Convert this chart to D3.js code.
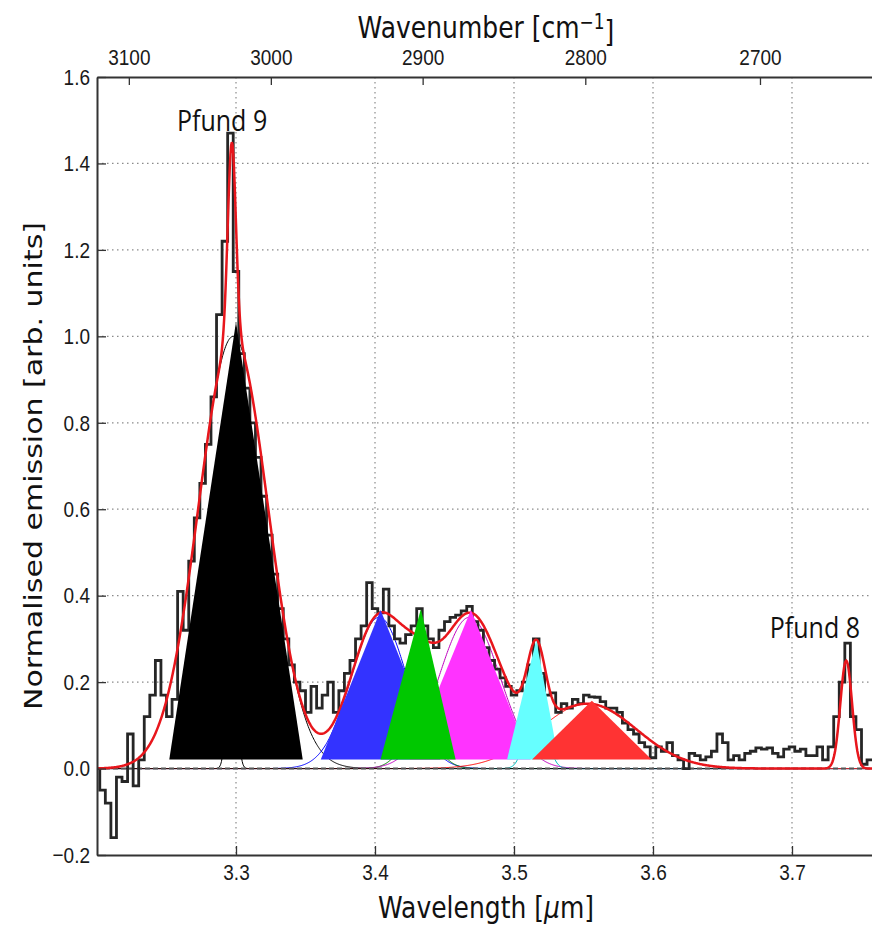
<!DOCTYPE html>
<html>
<head>
<meta charset="utf-8">
<script src="https://cdn.jsdelivr.net/npm/d3@7"></script>
<style>
  body { margin: 0; background: #fff; }
  svg { display: block; font-family: "DejaVu Sans", sans-serif; }
</style>
</head>
<body>
<div id="chart"></div>
<script>
// observed spectrum, one value per bin (steps-mid)
var specStart = 3.200, specStep = 0.004;
var specFlux = [
  0.00, -0.05, -0.08, -0.16, -0.02, -0.03, 0.08, -0.04, 0.02, 0.12,
  0.17, 0.25, 0.17, 0.12, 0.16, 0.41, 0.32, 0.48, 0.58, 0.66,
  0.75, 0.86, 1.05, 1.22, 1.47, 1.15, 0.96, 0.88, 0.80, 0.72,
  0.63, 0.54, 0.45, 0.37, 0.30, 0.24, 0.20, 0.18, 0.13, 0.19,
  0.14, 0.17, 0.20, 0.13, 0.18, 0.22, 0.25, 0.30, 0.33, 0.43,
  0.37, 0.36, 0.415, 0.33, 0.30, 0.29, 0.31, 0.33, 0.37, 0.33,
  0.30, 0.28, 0.32, 0.34, 0.35, 0.355, 0.365, 0.375, 0.34, 0.32,
  0.28, 0.25, 0.23, 0.21, 0.19, 0.17, 0.18, 0.20, 0.24, 0.30,
  0.22, 0.17, 0.175, 0.13, 0.15, 0.14, 0.16, 0.15, 0.17, 0.166,
  0.165, 0.155, 0.14, 0.14, 0.13, 0.105, 0.09, 0.08, 0.06, 0.05,
  0.025, 0.05, 0.04, 0.06, 0.03, 0.02, 0.00, 0.035, 0.03, 0.02,
  0.027, 0.04, 0.08, 0.06, 0.02, 0.03, 0.02, 0.035, 0.04, 0.048,
  0.045, 0.048, 0.035, 0.027, 0.045, 0.05, 0.04, 0.045, 0.03, 0.03,
  0.05, 0.02, 0.05, 0.12, 0.20, 0.29, 0.12, 0.09, 0.01, 0.02,
  0.02
];

// gaussian components of the fit
var compCenter = [3.298, 3.297, 3.403, 3.432, 3.468, 3.516, 3.553, 3.739];
var compAmp    = [1.00, 0.45, 0.35, 0.09, 0.35, 0.18, 0.15, 0.25];
var compSigma  = [0.025, 0.0029, 0.020, 0.012, 0.022, 0.0065, 0.035, 0.0042];
var compColor  = ["#000000", "#000000", "#0000ff", "#008000", "#bf00bf", "#00bfbf", "#ff0000", "#000000"];

// filled triangles, in drawing order
var triApexX     = [3.300, 3.404, 3.469, 3.433, 3.516, 3.556];
var triApexY     = [1.033, 0.367, 0.367, 0.369, 0.297, 0.157];
var triBaseLeft  = [3.252, 3.361, 3.425, 3.404, 3.495, 3.513];
var triBaseRight = [3.348, 3.447, 3.512, 3.458, 3.532, 3.599];
var triBaseY = 0.021;
var triColor = ["#000000", "#3333ff", "#ff33ff", "#00c800", "#66ffff", "#ff3333"];

var xTicks = [3.3, 3.4, 3.5, 3.6, 3.7];
var yTicks = [-0.2, 0.0, 0.2, 0.4, 0.6, 0.8, 1.0, 1.2, 1.4, 1.6];
var wavenumberTicks = [3100, 3000, 2900, 2800, 2700];

var labelText = ["Pfund 9", "Pfund 8"];
var labelX = [3.290, 3.7165];
var labelY = [1.475, 0.302];

var margin = {top: 77, left: 97},
    width = 778.4,
    height = 778,
    stretch = 1.2; // the figure is taller than wide, text included

var x = d3.scaleLinear().domain([3.2, 3.76]).range([0, width]);
var y = d3.scaleLinear().domain([-0.2, 1.6]).range([height, 0]);
// top axis spans its own wavelength window
var xTop = d3.scaleLinear().domain([3.2017, 3.7911]).range([0, width]);

var svg = d3.select("#chart").append("svg")
    .attr("width", 872)
    .attr("height", 925);

var g = svg.append("g")
    .attr("transform", `translate(${margin.left},${margin.top})`);

g.append("clipPath").attr("id", "plotClip")
  .append("rect").attr("width", width).attr("height", height);

// grid
g.append("g").selectAll("line")
    .data(yTicks.filter(function (d) { return d > -0.2 && d < 1.6 && d !== 0; }))
  .enter().append("line")
    .attr("x1", 0).attr("x2", width)
    .attr("y1", function (d) { return y(d); })
    .attr("y2", function (d) { return y(d); })
    .attr("stroke", "#8a8a8a").attr("stroke-width", 1.2)
    .attr("stroke-dasharray", "1.5,3.5");

g.append("g").selectAll("line")
    .data(xTicks)
  .enter().append("line")
    .attr("x1", function (d) { return x(d); })
    .attr("x2", function (d) { return x(d); })
    .attr("y1", 0).attr("y2", height)
    .attr("stroke", "#8a8a8a").attr("stroke-width", 1.2)
    .attr("stroke-dasharray", "1.5,3.5");

var plot = g.append("g").attr("clip-path", "url(#plotClip)");

function gauss(l, k) {
  var d = l - compCenter[k];
  return compAmp[k] * Math.exp(-d * d / (2 * compSigma[k] * compSigma[k]));
}

var grid = d3.range(3.2, 3.7605, 0.0005);
var line = d3.line()
    .x(function (d) { return x(d[0]); })
    .y(function (d) { return y(d[1]); });

// thin component curves
compCenter.forEach(function (c, k) {
  plot.append("path")
      .datum(grid.map(function (l) { return [l, gauss(l, k)]; }))
      .attr("d", line)
      .attr("fill", "none")
      .attr("stroke", compColor[k])
      .attr("stroke-width", 1);
});

// zero line
plot.append("line")
    .attr("x1", 0).attr("x2", width)
    .attr("y1", y(0)).attr("y2", y(0))
    .attr("stroke", "#555").attr("stroke-width", 2)
    .attr("stroke-dasharray", "5,3");

// spectrum
plot.append("path")
    .datum(specFlux.map(function (v, i) { return [specStart + i * specStep, v]; }))
    .attr("d", line.curve(d3.curveStep))
    .attr("fill", "none")
    .attr("stroke", "#262626")
    .attr("stroke-width", 2.8);
line.curve(d3.curveLinear);

// total fit
plot.append("path")
    .datum(grid.map(function (l) {
      return [l, d3.sum(compCenter, function (c, k) { return gauss(l, k); })];
    }))
    .attr("d", line)
    .attr("fill", "none")
    .attr("stroke", "#e8161c")
    .attr("stroke-width", 2.5);

// triangles on top
plot.selectAll(".tri")
    .data(triColor)
  .enter().append("polygon")
    .attr("class", "tri")
    .attr("points", function (d, i) {
      return [[triBaseLeft[i], triBaseY], [triApexX[i], triApexY[i]], [triBaseRight[i], triBaseY]]
        .map(function (p) { return x(p[0]) + "," + y(p[1]); }).join(" ");
    })
    .attr("fill", function (d) { return d; });

// axes
var fmt = d3.format(".1f");

function styleAxis(sel) {
  sel.select(".domain").attr("stroke", "#333").attr("stroke-width", 2);
  sel.selectAll(".tick line").attr("stroke", "#333").attr("stroke-width", 1.3);
  sel.selectAll(".tick text")
      .attr("fill", "#1a1a1a")
      .style("font-size", "19px")
      .attr("transform", `scale(1,${stretch})`);
}

g.append("g")
    .attr("transform", `translate(0,${height})`)
    .call(d3.axisBottom(x).tickValues(xTicks).tickFormat(fmt)
      .tickSize(-9).tickSizeOuter(0).tickPadding(7.3))
    .call(styleAxis);

g.append("g")
    .call(d3.axisLeft(y).tickValues(yTicks).tickFormat(fmt)
      .tickSize(-9).tickSizeOuter(0).tickPadding(7))
    .call(styleAxis);

g.append("g")
    .call(d3.axisTop(xTop)
      .tickValues(wavenumberTicks.map(function (n) { return 1e4 / n; }))
      .tickFormat(function (l) { return Math.round(1e4 / l); })
      .tickSize(-8).tickSizeOuter(0).tickPadding(10))
    .call(styleAxis);

// axis titles
var topTitle = svg.append("text")
    .attr("transform", `translate(486,38) scale(1,${stretch})`)
    .attr("text-anchor", "middle")
    .style("font-size", "25px")
    .attr("fill", "#111")
    .text("Wavenumber [cm");
topTitle.append("tspan")
    .attr("dy", "-0.45em")
    .style("font-size", "17px")
    .text("\u22121");
topTitle.append("tspan")
    .attr("dy", "0.45em")
    .text("]");

var bottomTitle = svg.append("text")
    .attr("transform", `translate(486,918) scale(1,${stretch})`)
    .attr("text-anchor", "middle")
    .style("font-size", "25px")
    .attr("fill", "#111")
    .text("Wavelength [");
bottomTitle.append("tspan").style("font-style", "italic").text("\u03bc");
bottomTitle.append("tspan").text("m]");

svg.append("text")
    .attr("transform", `translate(42,466) scale(1,${stretch}) rotate(-90)`)
    .attr("text-anchor", "middle")
    .style("font-size", "25px")
    .attr("fill", "#111")
    .text("Normalised emission [arb. units]");

// line labels
g.selectAll(".lineLabel")
    .data(labelText)
  .enter().append("text")
    .attr("class", "lineLabel")
    .attr("transform", function (d, i) {
      return `translate(${x(labelX[i])},${y(labelY[i])}) scale(1,${stretch})`;
    })
    .attr("text-anchor", "middle")
    .style("font-family", "'Open Sans', sans-serif")
    .style("font-size", "25px")
    .attr("fill", "#111")
    .text(function (d) { return d; });
</script>
</body>
</html>
